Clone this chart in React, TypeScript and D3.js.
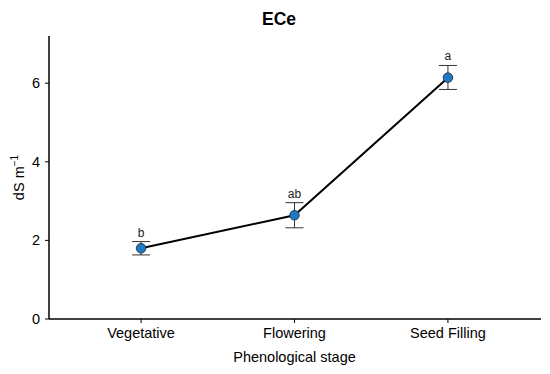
import * as d3 from 'd3'

const stages = ['Vegetative', 'Flowering', 'Seed Filling']
const means = [1.8, 2.64, 6.14]
const lower = [1.63, 2.32, 5.84]
const upper = [1.97, 2.96, 6.45]
const letters = ['b', 'ab', 'a']
const yTicks = [0, 2, 4, 6]

const W = 550
const H = 374
const margin = { top: 36, right: 10, bottom: 55, left: 49 }
const font = '"Liberation Sans", Arial, sans-serif'

export default function App() {
    const x = d3.scalePoint<string>()
        .domain(stages)
        .range([margin.left, W - margin.right])
        .padding(0.6)

    const y = d3.scaleLinear()
        .domain([0, 7.2])
        .range([H - margin.bottom, margin.top])

    const line = d3.line<number>()
        .x((_, i) => x(stages[i]) as number)
        .y(d => y(d))

    const y0 = y(0)

    return (
        <svg width={W} height={H} style={{ position: 'absolute', left: 0, top: 0, background: '#fff' }}
             fontFamily={font}>
            {/* title */}
            <text x={279} y={25} textAnchor="middle" fontSize={17.5} fontWeight="bold">ECe</text>

            {/* y axis */}
            <line x1={margin.left} x2={margin.left} y1={margin.top} y2={y0} stroke="#000" strokeWidth={1.5} />
            {yTicks.map(t => (
                <g key={t}>
                    <line x1={margin.left - 4} x2={margin.left} y1={y(t)} y2={y(t)} stroke="#000" />
                    <text x={margin.left - 9} y={y(t) + 5} textAnchor="end" fontSize={14.5}>{t}</text>
                </g>
            ))}
            <text transform={`translate(24,${(margin.top + y0) / 2}) rotate(-90)`} textAnchor="middle" fontSize={14.5}>
                dS m<tspan dy={-6} fontSize={10}>−1</tspan>
            </text>

            {/* x axis */}
            <line x1={margin.left} x2={W - margin.right + 1} y1={y0} y2={y0} stroke="#000" strokeWidth={1.5} />
            {stages.map(s => (
                <g key={s}>
                    <line x1={x(s)} x2={x(s)} y1={y0} y2={y0 + 4} stroke="#000" />
                    <text x={x(s)} y={338} textAnchor="middle" fontSize={14.5}>{s}</text>
                </g>
            ))}
            <text x={(x(stages[1]) as number)} y={362} textAnchor="middle" fontSize={14.5}>Phenological stage</text>

            {/* error bars */}
            {stages.map((s, i) => {
                const cx = x(s) as number
                return (
                    <g key={s} stroke="#333" strokeWidth={1}>
                        <line x1={cx} x2={cx} y1={y(lower[i])} y2={y(upper[i])} />
                        <line x1={cx - 9} x2={cx + 9} y1={y(lower[i])} y2={y(lower[i])} />
                        <line x1={cx - 9} x2={cx + 9} y1={y(upper[i])} y2={y(upper[i])} />
                    </g>
                )
            })}

            {/* line */}
            <path d={line(means) ?? ''} fill="none" stroke="#000" strokeWidth={2} />

            {/* points */}
            {stages.map((s, i) => (
                <circle key={s} cx={x(s)} cy={y(means[i])} r={4.8} fill="#1f78c1" stroke="#1a2a3a" strokeWidth={0.8} />
            ))}

            {/* letters */}
            {stages.map((s, i) => (
                <text key={s} x={x(s)} y={y(upper[i]) - 5} textAnchor="middle" fontSize={12} fill="#222">{letters[i]}</text>
            ))}
        </svg>
    )
}
